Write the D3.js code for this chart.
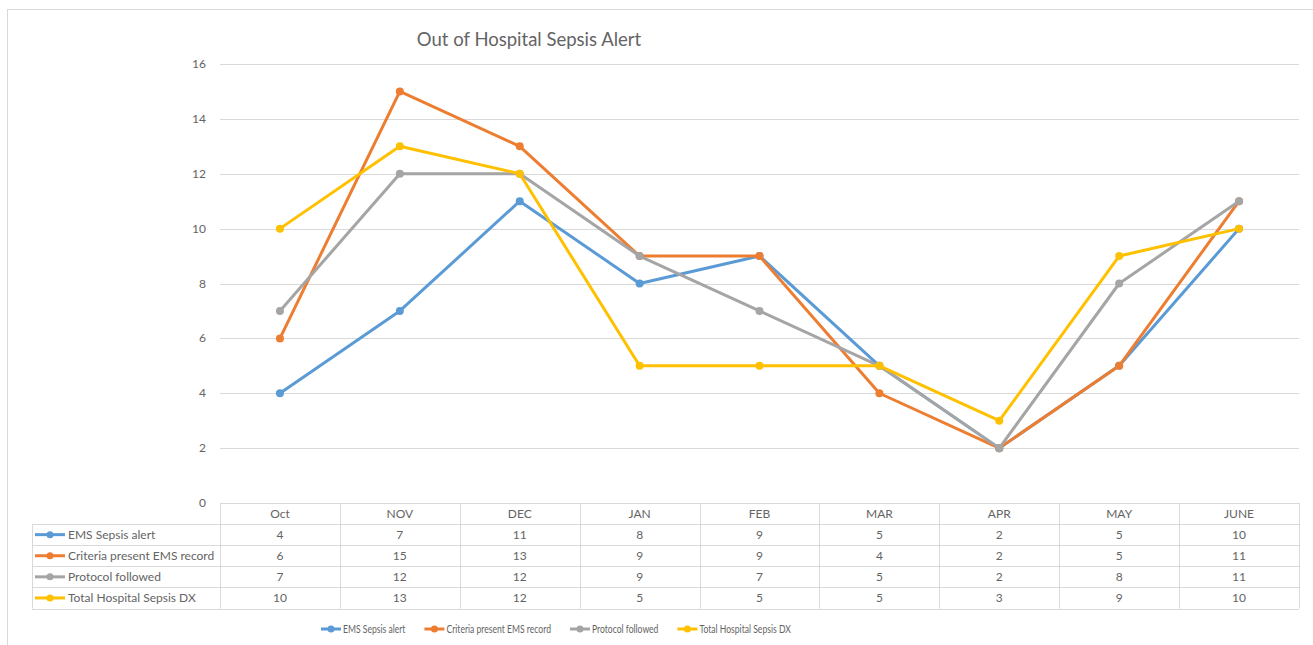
<!DOCTYPE html>
<html>

<head>
    <meta charset="UTF-8">
    <style>
        body {
            margin: 0;
            background: #ffffff;
        }

        svg text {
            font-family: Lato, "Liberation Sans", sans-serif;
            fill: #646464;
        }
    </style>
</head>

<body>
    <svg></svg>

    <script src="https://d3js.org/d3.v7.min.js"></script>

    <script>
        let width = 1313, height = 645;

        // data
        let months = ["Oct", "NOV", "DEC", "JAN", "FEB", "MAR", "APR", "MAY", "JUNE"];
        let seriesNames = ["EMS Sepsis alert", "Criteria present EMS record", "Protocol followed", "Total Hospital Sepsis DX"];
        let emsAlert = [4, 7, 11, 8, 9, 5, 2, 5, 10];
        let criteriaPresent = [6, 15, 13, 9, 9, 4, 2, 5, 11];
        let protocolFollowed = [7, 12, 12, 9, 7, 5, 2, 8, 11];
        let totalHospital = [10, 13, 12, 5, 5, 5, 3, 9, 10];
        let yTicks = [0, 2, 4, 6, 8, 10, 12, 14, 16];
        let colors = ["#5b9bd5", "#ed7d31", "#a5a5a5", "#ffc000"];

        let series = [emsAlert, criteriaPresent, protocolFollowed, totalHospital].map((vals, i) => {
            return { name: seriesNames[i], color: colors[i], values: vals };
        });

        let svg = d3.select("svg")
            .attr("width", width)
            .attr("height", height);

        // chart frame
        svg.append("rect")
            .attr("x", 7.5)
            .attr("y", 9.5)
            .attr("width", 1320)
            .attr("height", 660)
            .attr("fill", "#fff")
            .attr("stroke", "#d9d9d9");

        let x = d3.scaleBand()
            .domain(months)
            .range([220, 1299]);

        let y = d3.scaleLinear()
            .domain([0, 16])
            .range([503, 64]);

        // title
        svg.append("text")
            .attr("x", 529)
            .attr("y", 46)
            .attr("text-anchor", "middle")
            .style("font-size", "18.5px")
            .text("Out of Hospital Sepsis Alert");

        // gridlines
        svg.append("g")
            .selectAll("line")
            .data(yTicks.filter(t => t > 0))
            .enter()
            .append("line")
            .attr("x1", 220)
            .attr("x2", 1299)
            .attr("y1", d => Math.round(y(d)) + 0.5)
            .attr("y2", d => Math.round(y(d)) + 0.5)
            .attr("stroke", "#d9d9d9")
            .attr("stroke-width", 1);

        // y axis labels
        svg.append("g")
            .selectAll("text")
            .data(yTicks)
            .enter()
            .append("text")
            .attr("x", 206)
            .attr("y", d => y(d) + 4)
            .attr("text-anchor", "end")
            .style("font-size", "12px")
            .text(d => d);

        // lines
        let line = d3.line()
            .x((d, i) => x(months[i]) + x.bandwidth() / 2)
            .y(d => y(d));

        let lineG = svg.append("g");
        series.forEach(s => {
            lineG.append("path")
                .datum(s.values)
                .attr("fill", "none")
                .attr("stroke", s.color)
                .attr("stroke-width", 3)
                .attr("stroke-linejoin", "round")
                .attr("d", line);

            lineG.append("g")
                .selectAll("circle")
                .data(s.values)
                .enter()
                .append("circle")
                .attr("cx", (d, i) => x(months[i]) + x.bandwidth() / 2)
                .attr("cy", d => y(d))
                .attr("r", 4)
                .attr("fill", s.color);
        });

        // data table
        let tableLeft = 32, tableRight = 1299, rowH = 21.1, tableTop = 503;
        let table = svg.append("g");
        let gridColor = "#d9d9d9";

        // header row
        table.append("line")
            .attr("x1", 220).attr("x2", tableRight)
            .attr("y1", tableTop + 0.5).attr("y2", tableTop + 0.5)
            .attr("stroke", gridColor);

        table.selectAll(".month")
            .data(months)
            .enter()
            .append("text")
            .attr("x", d => x(d) + x.bandwidth() / 2)
            .attr("y", tableTop + rowH / 2 + 4)
            .attr("text-anchor", "middle")
            .style("font-size", "12px")
            .text(d => d);

        // horizontal rules
        d3.range(1, 6).forEach(r => {
            let yy = Math.round(tableTop + r * rowH) + 0.5;
            table.append("line")
                .attr("x1", tableLeft).attr("x2", tableRight)
                .attr("y1", yy).attr("y2", yy)
                .attr("stroke", gridColor);
        });

        // vertical rules
        let colEdges = months.map(m => x(m)).concat([tableRight]);
        colEdges.forEach(cx => {
            table.append("line")
                .attr("x1", Math.round(cx) + 0.5).attr("x2", Math.round(cx) + 0.5)
                .attr("y1", tableTop).attr("y2", tableTop + 5 * rowH)
                .attr("stroke", gridColor);
        });
        table.append("line")
            .attr("x1", tableLeft + 0.5).attr("x2", tableLeft + 0.5)
            .attr("y1", tableTop + rowH).attr("y2", tableTop + 5 * rowH)
            .attr("stroke", gridColor);

        series.forEach((s, r) => {
            let cy = tableTop + (r + 1.5) * rowH;
            table.append("line")
                .attr("x1", 35).attr("x2", 65)
                .attr("y1", cy).attr("y2", cy)
                .attr("stroke", s.color)
                .attr("stroke-width", 3);
            table.append("circle")
                .attr("cx", 50).attr("cy", cy).attr("r", 3.5)
                .attr("fill", s.color);
            table.append("text")
                .attr("x", 68)
                .attr("y", cy + 4)
                .style("font-size", "12px")
                .text(s.name);

            table.append("g")
                .selectAll("text")
                .data(s.values)
                .enter()
                .append("text")
                .attr("x", (d, i) => x(months[i]) + x.bandwidth() / 2)
                .attr("y", cy + 4)
                .attr("text-anchor", "middle")
                .style("font-size", "12px")
                .text(d => d);
        });

        // legend (text is condensed in the original)
        let legend = svg.append("g");
        let lx = 321, ly = 629;
        series.forEach(s => {
            legend.append("line")
                .attr("x1", lx).attr("x2", lx + 20)
                .attr("y1", ly).attr("y2", ly)
                .attr("stroke", s.color)
                .attr("stroke-width", 3);
            legend.append("circle")
                .attr("cx", lx + 10).attr("cy", ly).attr("r", 3.5)
                .attr("fill", s.color);
            let t = legend.append("text")
                .attr("x", lx + 22)
                .attr("y", ly + 4)
                .style("font-size", "11px")
                .text(s.name);
            let w = t.node().getComputedTextLength() * 0.78;
            t.attr("textLength", w).attr("lengthAdjust", "spacingAndGlyphs");
            lx += 22 + w + 19;
        });
    </script>

</body>

</html>
